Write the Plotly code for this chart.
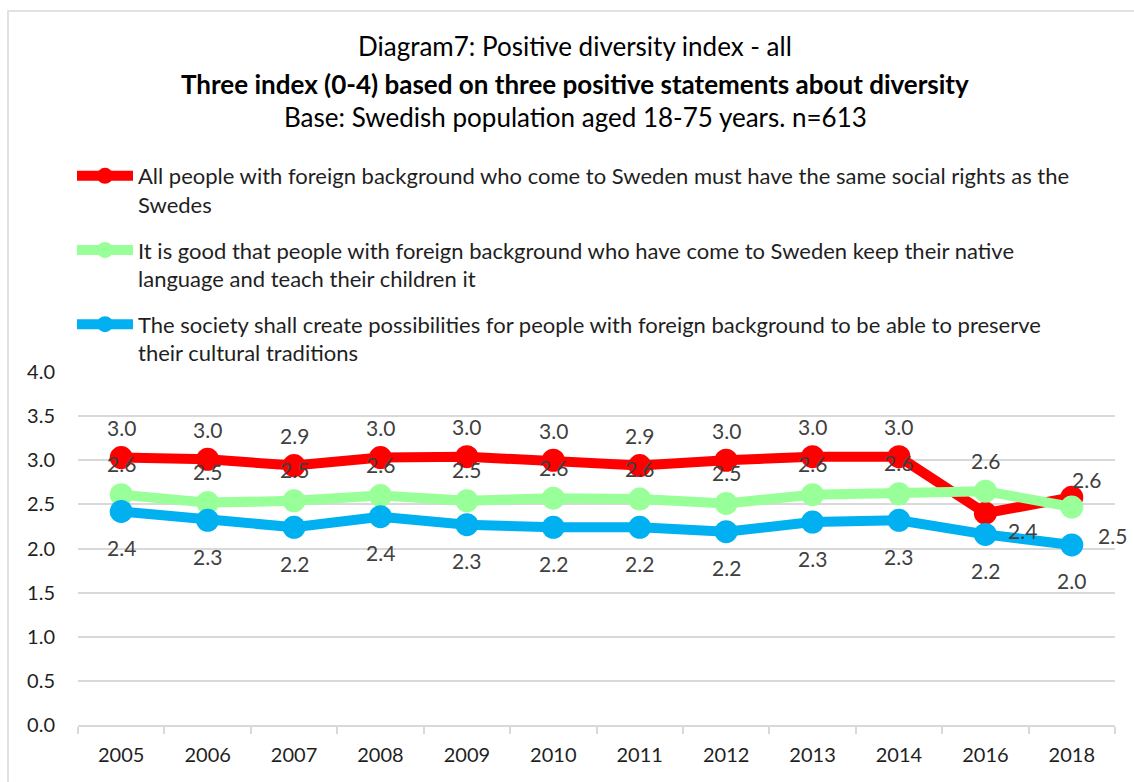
import plotly.graph_objects as go

# Survey years (category axis)
years = ["2005", "2006", "2007", "2008", "2009", "2010",
         "2011", "2012", "2013", "2014", "2016", "2018"]

# Index values (0-4) per statement
same_social_rights = [3.03, 3.01, 2.94, 3.03, 3.04, 3.00,
                      2.94, 3.00, 3.04, 3.04, 2.40, 2.58]
keep_native_language = [2.61, 2.52, 2.54, 2.60, 2.54, 2.57,
                        2.56, 2.51, 2.61, 2.62, 2.65, 2.47]
preserve_traditions = [2.42, 2.32, 2.24, 2.36, 2.27, 2.24,
                       2.24, 2.19, 2.30, 2.32, 2.16, 2.04]

series_names = [
    "All people with foreign background who come to Sweden must have the same social rights as the<br>Swedes",
    "It is good that people with foreign background who have come to Sweden keep their native<br>language and teach their children it",
    "The society shall create possibilities for people with foreign background to be able to preserve<br>their cultural traditions",
]

title_line1 = "Diagram7: Positive diversity index - all"
title_line2 = "Three index (0-4) based on three positive statements about diversity"
title_line3 = "Base: Swedish population aged 18-75 years. n=613"

y_ticks = [0, 0.5, 1, 1.5, 2, 2.5, 3, 3.5, 4]

# ---- styling ----
W, H = 1134, 782
M_L, M_R, M_T, M_B = 78, 19, 372, 57
FONT = "Lato, 'Open Sans', sans-serif"
LABEL_COLOR = "#404040"
TEXT_COLOR = "#1f1f1f"
GRID = "#d9d9d9"

colors = ["#ff0000", "#99ff99", "#00b0f0"]
series = [same_social_rights, keep_native_language, preserve_traditions]

# default label offset (px) per series, plus per-year exceptions
label_offset = [(0, 30), (0, 31), (0, -36)]
label_exceptions = [
    {"2016": (37, -17), "2018": (15, 18)},
    {"2018": (41, -28)},
    {},
]

fig = go.Figure()

for name, vals, col in zip(series_names, series, colors):
    fig.add_trace(go.Scatter(
        x=years, y=vals, name=name, mode="lines+markers",
        line=dict(color=col, width=10),
        marker=dict(color=col, size=23),
        legendgroup=name,
        hoverinfo="x+y",
    ))

annotations = []
for i, vals in enumerate(series):
    for idx, (yr, v) in enumerate(zip(years, vals)):
        dx, dy = label_exceptions[i].get(yr, label_offset[i])
        # category axes take the serial index of the category
        annotations.append(dict(
            x=idx, y=v, xref="x", yref="y", text=f"{v:.1f}",
            showarrow=False, xshift=dx, yshift=dy,
            font=dict(family=FONT, size=21, color=LABEL_COLOR),
        ))

plot_w = W - M_L - M_R
plot_h = H - M_T - M_B


def px_x(px):
    return (px - M_L) / plot_w


def px_y(py):
    return (H - M_B - py) / plot_h


for text, py in [(title_line1, 46), (f"<b>{title_line2}</b>", 84), (title_line3, 117)]:
    annotations.append(dict(
        x=px_x(575), y=px_y(py), xref="paper", yref="paper",
        text=text, showarrow=False, xanchor="center", yanchor="middle",
        font=dict(family=FONT, size=26, color="#000000"),
    ))

# outer chart frame
shapes = [dict(
    type="rect", xref="paper", yref="paper",
    x0=px_x(8), x1=px_x(1160), y0=px_y(800), y1=px_y(11),
    line=dict(color=GRID, width=1.5), fillcolor="rgba(0,0,0,0)", layer="below",
)]

fig.update_layout(
    width=W, height=H,
    margin=dict(l=M_L, r=M_R, t=M_T, b=M_B, autoexpand=False),
    paper_bgcolor="white", plot_bgcolor="white",
    font=dict(family=FONT, size=20, color=TEXT_COLOR),
    showlegend=True,
    legend=dict(
        x=px_x(72), y=px_y(155), xanchor="left", yanchor="top",
        font=dict(family=FONT, size=22, color=TEXT_COLOR),
        traceorder="grouped", tracegroupgap=14, valign="top",
        itemwidth=56, bgcolor="rgba(0,0,0,0)",
    ),
    annotations=annotations,
    shapes=shapes,
    xaxis=dict(
        type="category", range=[-0.5, len(years) - 0.5], automargin=False,
        showgrid=False, showline=True, linecolor=GRID, linewidth=1.5,
        ticks="outside", tickson="boundaries", ticklen=7, tickcolor=GRID, tickwidth=1.5,
        tickangle=0,
        tickfont=dict(family=FONT, size=20, color=TEXT_COLOR),
        ticklabelstandoff=11,
        fixedrange=True,
    ),
    yaxis=dict(
        range=[0, 4], tickvals=y_ticks, tickformat=".1f", automargin=False,
        showgrid=True, gridcolor=GRID, gridwidth=1.5,
        zeroline=False, showline=False, ticks="",
        tickfont=dict(family=FONT, size=20, color=TEXT_COLOR),
        ticklabelstandoff=22,
        fixedrange=True,
    ),
)

fig.write_html("out.html")
